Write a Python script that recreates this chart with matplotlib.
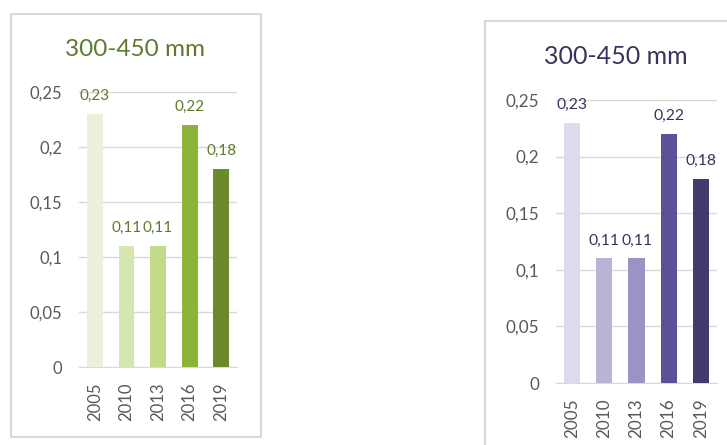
import matplotlib
matplotlib.use('Agg')
import matplotlib.pyplot as plt
from matplotlib.patches import Rectangle

# data
years = ['2005', '2010', '2013', '2016', '2019']
values = [0.23, 0.11, 0.11, 0.22, 0.18]
value_labels = ['0,23', '0,11', '0,11', '0,22', '0,18']
y_ticks = [0, 0.05, 0.1, 0.15, 0.2, 0.25]
y_tick_labels = ['0', '0,05', '0,1', '0,15', '0,2', '0,25']
title = '300-450 mm'

green_bars = ['#E9F1D8', '#D5E6B0', '#C3DA89', '#8DB33A', '#6A8A2B']
purple_bars = ['#DCDAEB', '#B9B4D6', '#9A94C4', '#5A5196', '#413B6E']

plt.rcParams['font.family'] = ['Lato', 'DejaVu Sans']

W, H = 727, 445
fig = plt.figure(figsize=(W / 100, H / 100), dpi=100)


def px_box(x0, y0, x1, y1):
    # pixel coords (top-left origin) -> figure fraction [l, b, w, h]
    return [x0 / W, 1 - y1 / H, (x1 - x0) / W, (y1 - y0) / H]


def panel(ax_px, box_px, title_xy, colors, text_color, scale=1.0):
    bx = px_box(*box_px)
    fig.patches.append(Rectangle((bx[0], bx[1]), bx[2], bx[3],
                                 transform=fig.transFigure, fill=False,
                                 edgecolor='#D9D9D9', linewidth=1.5))
    ax = fig.add_axes(px_box(*ax_px))
    x = range(len(years))
    ax.bar(x, values, width=0.5, color=colors, zorder=3)
    ax.set_ylim(0, 0.25)
    ax.set_xlim(-0.5, len(years) - 0.5)
    ax.set_yticks(y_ticks)
    ax.set_yticklabels(y_tick_labels)
    ax.set_xticks(list(x))
    ax.set_xticklabels(years, rotation=90)
    ax.grid(axis='y', color='#D9D9D9', linewidth=1, zorder=0)
    for s in ['top', 'right', 'left']:
        ax.spines[s].set_visible(False)
    ax.spines['bottom'].set_color('#D9D9D9')
    ax.tick_params(length=0, colors='#595959', labelsize=12 * scale)
    ax.tick_params(axis='y', pad=12)
    ax.tick_params(axis='x', pad=11)
    for xi, v, lab in zip(x, values, value_labels):
        ax.annotate(lab, (xi, v), xytext=(0, 13), textcoords='offset points',
                    ha='center', va='center', color=text_color,
                    fontsize=11 * scale, annotation_clip=False)
    fig.text(title_xy[0] / W, 1 - title_xy[1] / H, title, ha='center',
             va='center', color=text_color, fontsize=17.5 * scale)
    return ax


panel((79, 92, 237, 367), (11, 14, 261, 437), (135, 50),
      green_bars, '#5E7A2E')
panel((556, 100, 717, 383), (485, 21, 740, 460), (616, 57),
      purple_bars, '#38335E', scale=1.03)

fig.savefig('out.png', dpi=100)
